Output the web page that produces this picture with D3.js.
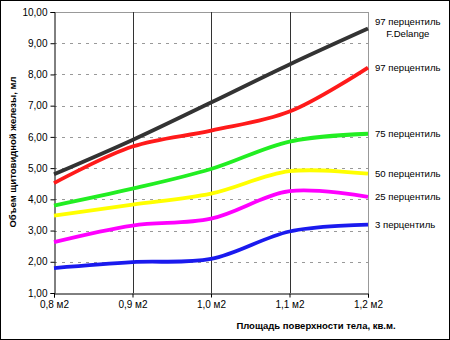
<!DOCTYPE html>
<html><head><meta charset="utf-8">
<script src="https://cdn.jsdelivr.net/npm/d3@7"></script>
<style>body{margin:0;background:#fff}svg{display:block}</style>
</head><body>
<script>
const bsa = [0.8, 0.9, 1.0, 1.1, 1.2];
const xTickLabels = ["0,8 м2", "0,9 м2", "1,0 м2", "1,1 м2", "1,2 м2"];
const yTicks = [1,2,3,4,5,6,7,8,9,10];
const p97Delange = [4.8, 5.9, 7.1, 8.32, 9.47];
const p97 = [4.52, 5.69, 6.2, 6.81, 8.22];
const p75 = [3.8, 4.34, 4.97, 5.85, 6.1];
const p50 = [3.48, 3.83, 4.18, 4.9, 4.82];
const p25 = [2.63, 3.16, 3.38, 4.26, 4.08];
const p3 = [1.8, 1.99, 2.09, 2.97, 3.19];
const seriesNames = ["97 перцентиль|F.Delange", "97 перцентиль", "75 перцентиль", "50 перцентиль", "25 перцентиль", "3 перцентиль"];
const seriesColors = ["#333333", "#ff1a1a", "#22ee22", "#ffff00", "#ff00ff", "#1a1aee"];
const seriesValues = [p97Delange, p97, p75, p50, p25, p3];

const W = 450, H = 340;
const svg = d3.select("body").append("svg").attr("width", W).attr("height", H)
  .style("font-family", "Arial, 'Liberation Sans', sans-serif");
svg.append("rect").attr("x",0.5).attr("y",0.5).attr("width",W-1).attr("height",H-1)
  .attr("fill","#fff").attr("stroke","#000");

const x = d3.scaleLinear().domain([0.8, 1.2]).range([54, 368]);
const y = d3.scaleLinear().domain([1, 10]).range([293, 12]);

// horizontal dashed grid
svg.append("g").selectAll("line").data(yTicks.filter(v => v > 1 && v < 10)).join("line")
  .attr("x1", x(0.8)).attr("x2", x(1.2))
  .attr("y1", d => Math.round(y(d)) + 0.5).attr("y2", d => Math.round(y(d)) + 0.5)
  .attr("stroke", "#999").attr("stroke-dasharray", "3,5");
// top & right border
svg.append("line").attr("x1", x(0.8)).attr("x2", x(1.2)).attr("y1", Math.round(y(10))+0.5).attr("y2", Math.round(y(10))+0.5).attr("stroke","#999");
svg.append("line").attr("x1", Math.round(x(1.2))+0.5).attr("x2", Math.round(x(1.2))+0.5).attr("y1", y(10)).attr("y2", y(1)).attr("stroke","#999");
// vertical grid
svg.append("g").selectAll("line").data([0.9, 1.0, 1.1]).join("line")
  .attr("x1", d => Math.round(x(d)) + 0.5).attr("x2", d => Math.round(x(d)) + 0.5)
  .attr("y1", y(10)).attr("y2", y(1)).attr("stroke", "#333");

// axes
const yAxis = d3.axisLeft(y).tickValues(yTicks).tickSize(4).tickPadding(3)
  .tickFormat(d => d3.format(".2f")(d).replace(".", ","));
const gy = svg.append("g").attr("transform", `translate(${Math.round(x(0.8))+0.5},0)`).call(yAxis);
const xAxis = d3.axisBottom(x).tickValues(bsa).tickSize(4).tickPadding(3)
  .tickFormat((d, i) => xTickLabels[i]);
const gx = svg.append("g").attr("transform", `translate(0,${Math.round(y(1))+0.5})`).call(xAxis);
[gx, gy].forEach(g => {
  g.select(".domain").attr("stroke", "#000");
  g.selectAll(".tick line").attr("stroke", "#000");
  g.selectAll("text").attr("font-size", 10).attr("fill", "#000").attr("font-family", "Arial, 'Liberation Sans', sans-serif");
});

// lines
const line = d3.line().x((d, i) => x(bsa[i])).y(d => y(d)).curve(d3.curveCatmullRom.alpha(0.5));
seriesValues.forEach((vals, k) => {
  svg.append("path").datum(vals).attr("d", line).attr("fill", "none")
    .attr("stroke", seriesColors[k]).attr("stroke-width", 3.8).attr("stroke-linejoin", "round");
});

// labels
seriesValues.forEach((vals, k) => {
  const parts = seriesNames[k].split("|");
  const yy = y(vals[vals.length - 1]);
  if (parts.length === 1) {
    svg.append("text").attr("x", 375).attr("y", yy + 3.5).attr("font-size", 9.6).text(parts[0]);
  } else {
    const t1 = svg.append("text").attr("x", 375).attr("y", yy - 3.5).attr("font-size", 9.6).text(parts[0]);
    const w = t1.node().getComputedTextLength();
    svg.append("text").attr("x", 375 + w / 2).attr("y", yy + 8.5).attr("font-size", 9.6)
      .attr("text-anchor", "middle").text(parts[1]);
  }
});

// axis titles
svg.append("text").attr("transform", `translate(16,152) rotate(-90)`).attr("text-anchor", "middle")
  .attr("font-size", 9.5).attr("font-weight", "bold").text("Объем щитовидной железы, мл");
svg.append("text").attr("x", 316).attr("y", 329).attr("text-anchor", "middle")
  .attr("font-size", 9.5).attr("font-weight", "bold").text("Площадь поверхности тела, кв.м.");
</script>
</body></html>
